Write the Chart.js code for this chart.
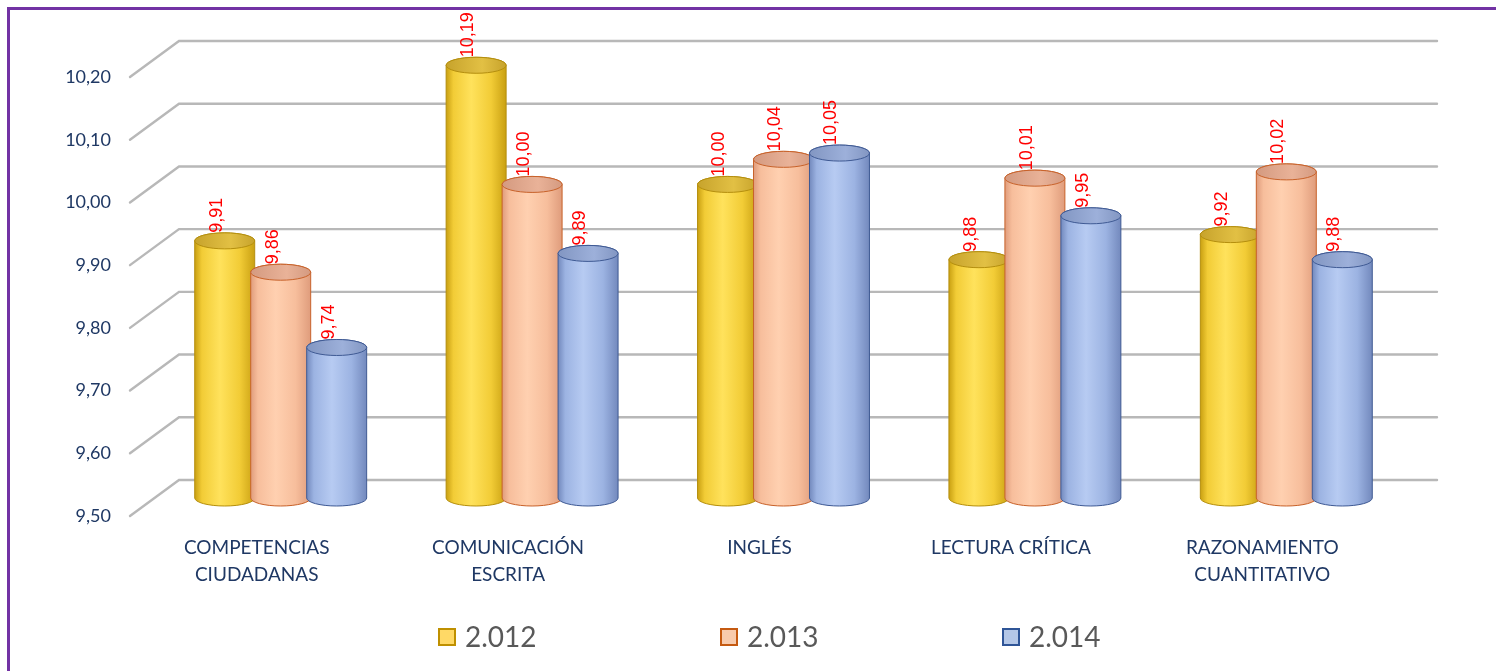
<!DOCTYPE html>
<html>
<head>
<meta charset="utf-8">
<script src="https://cdn.jsdelivr.net/npm/chart.js@4.4.1/dist/chart.umd.min.js"></script>
<style>
  html, body { margin: 0; padding: 0; background: #ffffff; overflow: hidden; }
  #wrap { position: relative; width: 1496px; height: 671px; }
  canvas { display: block; }
</style>
</head>
<body>
<div id="wrap"><canvas id="c" width="1496" height="671"></canvas></div>
<script>
// ---- data ----
const categories = [['COMPETENCIAS', 'CIUDADANAS'], ['COMUNICACIÓN', 'ESCRITA'], 'INGLÉS', 'LECTURA CRÍTICA', ['RAZONAMIENTO', 'CUANTITATIVO']];
const seriesNames = ['2.012', '2.013', '2.014'];
const values2012 = [9.91, 10.19, 10.00, 9.88, 9.92];
const values2013 = [9.86, 10.00, 10.04, 10.01, 10.02];
const values2014 = [9.74, 9.89, 10.05, 9.95, 9.88];
const yTickLabels = ['9,50', '9,60', '9,70', '9,80', '9,90', '10,00', '10,10', '10,20'];
const axisMin = 9.5;
const axisMax = 10.2;

// ---- styles ----
const palette = [
  { edge: '#C9A012', mid: '#F2CC36', light: '#FFE25C', top1: '#C7A32C', top2: '#E2C044', line: '#B58F0E', legendFill: '#FFD966', legendLine: '#BF9000' },
  { edge: '#DF9C7C', mid: '#F7BE9C', light: '#FFD0B0', top1: '#D49A80', top2: '#E9B298', line: '#C8622A', legendFill: '#F8CBAD', legendLine: '#C55A11' },
  { edge: '#7389BD', mid: '#9CB3E2', light: '#B7CBF2', top1: '#8296C2', top2: '#9DB0DA', line: '#3F5A94', legendFill: '#B4C7E7', legendLine: '#2F5597' }
];
const DEPTH_X = 24, DEPTH_Y = 18;

const framePlugin = {
  id: 'frame',
  beforeDraw(chart) {
    const ctx = chart.ctx;
    ctx.save();
    ctx.fillStyle = '#ffffff';
    ctx.fillRect(0, 0, chart.width, chart.height);
    ctx.fillStyle = '#7232A4';
    ctx.fillRect(7, 7, chart.width - 7, 3);
    ctx.fillRect(7, 7, 3, chart.height - 7);
    ctx.restore();
  }
};

const gridPlugin = {
  id: 'grid3d',
  beforeDatasetsDraw(chart) {
    const ctx = chart.ctx, ys = chart.scales.y, ca = chart.chartArea;
    ctx.save();
    ctx.strokeStyle = '#B8B8B8';
    ctx.lineWidth = 2.4;
    ctx.lineCap = 'round';
    ys.ticks.forEach(t => {
      const y = ys.getPixelForValue(t.value);
      ctx.beginPath();
      ctx.moveTo(ca.left - DEPTH_X - 1, y + DEPTH_Y);
      ctx.lineTo(ca.left + DEPTH_X, y - DEPTH_Y);
      ctx.lineTo(ca.right + DEPTH_X + 1, y - DEPTH_Y);
      ctx.stroke();
    });
    ctx.restore();
  }
};

const cylinderPlugin = {
  id: 'cylinders',
  afterDatasetsDraw(chart) {
    const ctx = chart.ctx;
    ctx.save();
    chart.data.datasets.forEach((ds, di) => {
      const meta = chart.getDatasetMeta(di);
      const pal = palette[di];
      meta.data.forEach(el => {
        const p = el.getProps(['x', 'y', 'base', 'width'], true);
        const rx = p.width / 2 + 2, ry = 8;
        const x = p.x, top = p.y, base = p.base;
        // body
        const g = ctx.createLinearGradient(x - rx, 0, x + rx, 0);
        g.addColorStop(0, pal.edge);
        g.addColorStop(0.12, pal.mid);
        g.addColorStop(0.42, pal.light);
        g.addColorStop(0.75, pal.mid);
        g.addColorStop(1, pal.edge);
        ctx.beginPath();
        ctx.moveTo(x - rx, top);
        ctx.lineTo(x - rx, base);
        ctx.ellipse(x, base, rx, ry, 0, Math.PI, 0, true);
        ctx.lineTo(x + rx, top);
        ctx.ellipse(x, top, rx, ry, 0, 0, Math.PI, true);
        ctx.closePath();
        ctx.fillStyle = g;
        ctx.fill();
        ctx.lineWidth = 1;
        ctx.strokeStyle = pal.line;
        ctx.stroke();
        // top face
        const gt = ctx.createLinearGradient(x - rx, top, x + rx, top);
        gt.addColorStop(0, pal.top1);
        gt.addColorStop(0.6, pal.top2);
        gt.addColorStop(1, pal.top1);
        ctx.beginPath();
        ctx.ellipse(x, top, rx, ry, 0, 0, Math.PI * 2);
        ctx.fillStyle = gt;
        ctx.fill();
        ctx.stroke();
      });
    });
    // value labels
    ctx.fillStyle = '#FF0000';
    ctx.font = '18px "Liberation Sans", Arial, sans-serif';
    ctx.textAlign = 'left';
    ctx.textBaseline = 'middle';
    chart.data.datasets.forEach((ds, di) => {
      const meta = chart.getDatasetMeta(di);
      meta.data.forEach((el, i) => {
        const p = el.getProps(['x', 'y'], true);
        ctx.save();
        ctx.translate(p.x - 8, p.y - 8);
        ctx.rotate(-Math.PI / 2);
        ctx.fillText(ds.data[i].toFixed(2).replace('.', ','), 0, 0);
        ctx.restore();
      });
    });
    ctx.restore();
  }
};

const legendPlugin = {
  id: 'legendCustom',
  afterDraw(chart) {
    const ctx = chart.ctx;
    const startX = 438, gap = 282, cy = 637, box = 18;
    ctx.save();
    ctx.font = '28px Lato, "Liberation Sans", sans-serif';
    ctx.textBaseline = 'middle';
    ctx.textAlign = 'left';
    chart.data.datasets.forEach((ds, di) => {
      const x = startX + di * gap;
      const pal = palette[di];
      ctx.fillStyle = pal.legendFill;
      ctx.fillRect(x, cy - box / 2, box, box);
      ctx.lineWidth = 2;
      ctx.strokeStyle = pal.legendLine;
      ctx.strokeRect(x + 1, cy - box / 2 + 1, box - 2, box - 2);
      ctx.fillStyle = '#595959';
      ctx.fillText(ds.label, x + box + 9, cy + 1);
    });
    ctx.restore();
  }
};

new Chart(document.getElementById('c'), {
  type: 'bar',
  data: {
    labels: categories,
    datasets: [
      { label: seriesNames[0], data: values2012, backgroundColor: 'rgba(0,0,0,0)', borderWidth: 0 },
      { label: seriesNames[1], data: values2013, backgroundColor: 'rgba(0,0,0,0)', borderWidth: 0 },
      { label: seriesNames[2], data: values2014, backgroundColor: 'rgba(0,0,0,0)', borderWidth: 0 }
    ]
  },
  options: {
    responsive: false,
    animation: false,
    events: [],
    layout: { padding: { left: 20, right: 84, top: 59, bottom: 83 } },
    datasets: { bar: { categoryPercentage: 0.668, barPercentage: 1.0, base: axisMin } },
    plugins: { legend: { display: false }, tooltip: { enabled: false } },
    scales: {
      x: {
        grid: { display: false, drawTicks: false },
        border: { display: false },
        ticks: {
          color: '#1F3864',
          font: { family: 'Lato, "Liberation Sans", sans-serif', size: 19, lineHeight: 1.42 },
          padding: 36,
          labelOffset: -24,
          maxRotation: 0,
          autoSkip: false
        },
        afterFit(s) { s.height = 90; }
      },
      y: {
        min: axisMin,
        max: axisMax,
        grid: { display: false, drawTicks: false },
        border: { display: false },
        ticks: {
          stepSize: 0.1,
          color: '#1F3864',
          font: { family: 'Lato, "Liberation Sans", sans-serif', size: 18 },
          padding: 44,
          labelOffset: DEPTH_Y,
          callback: (v, i) => yTickLabels[i]
        },
        afterFit(s) { s.width = 135; }
      }
    }
  },
  plugins: [framePlugin, gridPlugin, cylinderPlugin, legendPlugin]
});
</script>
</body>
</html>
